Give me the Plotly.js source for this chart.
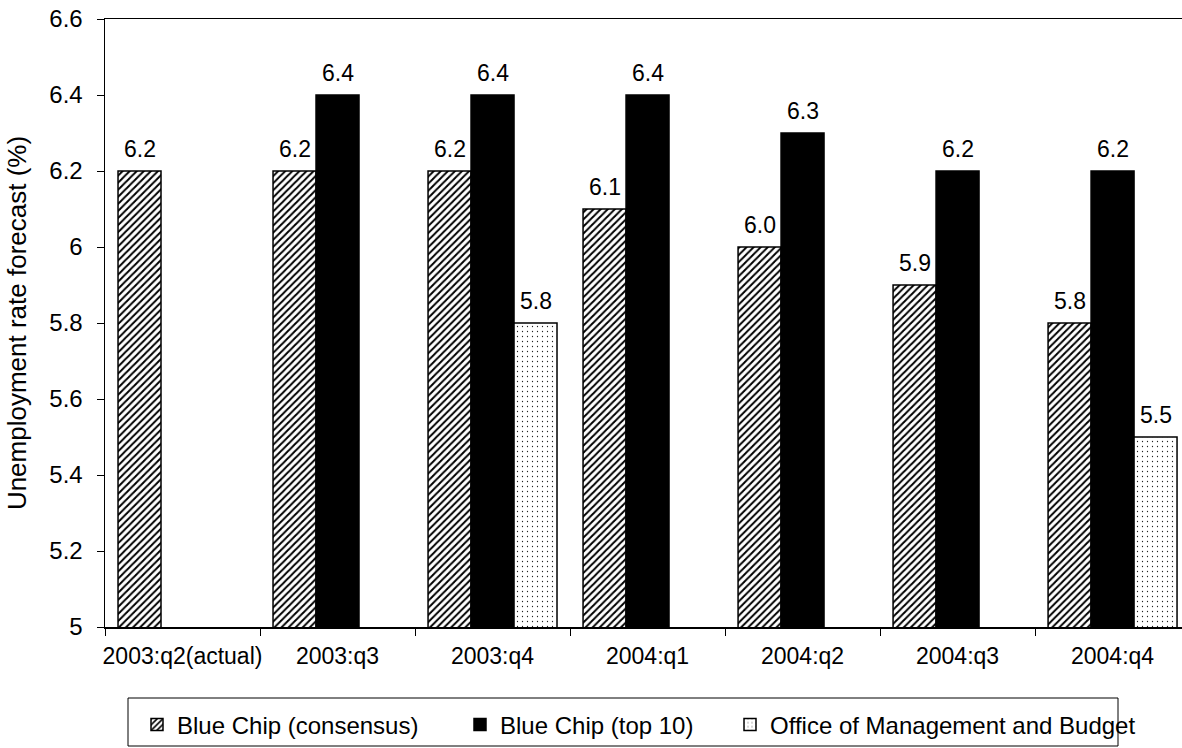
<!DOCTYPE html>
<html>
<head>
<meta charset="utf-8">
<script src="https://cdn.plot.ly/plotly-3.0.1.min.js"></script>
<style>
  html, body { margin: 0; padding: 0; background: #fff; overflow: hidden; }
  #chart { width: 1182px; height: 748px; }
</style>
</head>
<body>
<div id="chart"></div>
<script>
// ---- Data ----
const categories = ["2003:q2(actual)", "2003:q3", "2003:q4", "2004:q1", "2004:q2", "2004:q3", "2004:q4"];
const blueChipConsensus = [6.2, 6.2, 6.2, 6.1, 6.0, 5.9, 5.8];
const blueChipTop10 = [null, 6.4, 6.4, 6.4, 6.3, 6.2, 6.2];
const omb = [null, null, 5.8, null, null, null, 5.5];
const seriesNames = ["Blue Chip (consensus)", "Blue Chip (top 10)", "Office of Management and Budget"];
const yTicks = [5, 5.2, 5.4, 5.6, 5.8, 6, 6.2, 6.4, 6.6];

// ---- Styling ----
const FONT = "Liberation Sans, Arial, Helvetica, sans-serif";
const bargap = 0.168;
const barW = (1 - bargap) / 3;
const PLOT_L = 105, PLOT_W = 1077, PLOT_B = 627, PLOT_H = 608;
const px2x = p => (p - PLOT_L) / PLOT_W;
const px2y = p => -(p - PLOT_B) / PLOT_H;

const seriesData = [blueChipConsensus, blueChipTop10, omb];
const markers = [
  { color: "white", line: { color: "black", width: 1.5 },
    pattern: { shape: "/", fgcolor: "black", bgcolor: "white", size: 5, solidity: 0.4 } },
  { color: "black", line: { color: "black", width: 1.5 } },
  { color: "white", line: { color: "black", width: 1.5 },
    pattern: { shape: ".", fgcolor: "#222", bgcolor: "white", size: 5, solidity: 0.05 } }
];
const legendIds = ["legend", "legend2", "legend3"];
const legendTextStart = [177, 500, 770];

const traces = seriesData.map((vals, s) => ({
  type: "bar",
  name: seriesNames[s],
  x: categories,
  y: vals,
  marker: markers[s],
  legend: legendIds[s],
  hoverinfo: "x+y+name"
}));

// value labels above bars, positioned via data coordinates
const annotations = [];
seriesData.forEach((vals, s) => {
  vals.forEach((v, i) => {
    if (v === null) return;
    annotations.push({
      x: i + (s - 1) * barW,
      y: v,
      xref: "x", yref: "y",
      text: v.toFixed(1),
      showarrow: false,
      yanchor: "bottom",
      xanchor: "center",
      yshift: 7,
      font: { family: FONT, size: 23, color: "black" }
    });
  });
});

const legendBase = {
  orientation: "h",
  xanchor: "left",
  yanchor: "middle",
  y: px2y(725),
  borderwidth: 0,
  bgcolor: "rgba(0,0,0,0)",
  font: { family: FONT, size: 24, color: "black" }
};

const layout = {
  width: 1182,
  height: 748,
  paper_bgcolor: "white",
  plot_bgcolor: "white",
  font: { family: FONT, size: 23, color: "black" },
  margin: { l: PLOT_L, r: 0, t: 19, b: 748 - PLOT_B, pad: 0 },
  barmode: "group",
  bargap: bargap,
  bargroupgap: 0,
  showlegend: true,
  legend: Object.assign({}, legendBase, { x: px2x(legendTextStart[0] - 40) }),
  legend2: Object.assign({}, legendBase, { x: px2x(legendTextStart[1] - 40) }),
  legend3: Object.assign({}, legendBase, { x: px2x(legendTextStart[2] - 40) }),
  shapes: [{
    type: "rect", xref: "paper", yref: "paper",
    x0: px2x(128), x1: px2x(1118), y0: px2y(698), y1: px2y(746),
    line: { color: "black", width: 1 }, fillcolor: "rgba(0,0,0,0)"
  }],
  xaxis: {
    type: "category",
    range: [-0.5, 6.448],
    showline: true,
    linecolor: "black",
    linewidth: 1.5,
    mirror: true,
    ticks: "outside",
    tickson: "boundaries",
    ticklen: 7,
    tickcolor: "black",
    tickwidth: 1,
    tickangle: 0,
    showgrid: false,
    zeroline: false,
    tickfont: { family: FONT, size: 23, color: "black" },
    ticklabelstandoff: 8,
    fixedrange: true
  },
  yaxis: {
    range: [5, 6.6],
    tickvals: yTicks,
    ticktext: yTicks.map(String),
    showline: true,
    linecolor: "black",
    linewidth: 1.5,
    ticks: "outside",
    ticklen: 7,
    tickcolor: "black",
    tickwidth: 1,
    showgrid: false,
    zeroline: false,
    tickfont: { family: FONT, size: 24, color: "black" },
    ticklabelstandoff: 9,
    title: {
      text: "Unemployment rate forecast (%)",
      font: { family: FONT, size: 26, color: "black" },
      standoff: 15
    },
    automargin: false,
    fixedrange: true
  },
  annotations: annotations
};

Plotly.newPlot("chart", traces, layout, { displayModeBar: false, staticPlot: true });
</script>
</body>
</html>
